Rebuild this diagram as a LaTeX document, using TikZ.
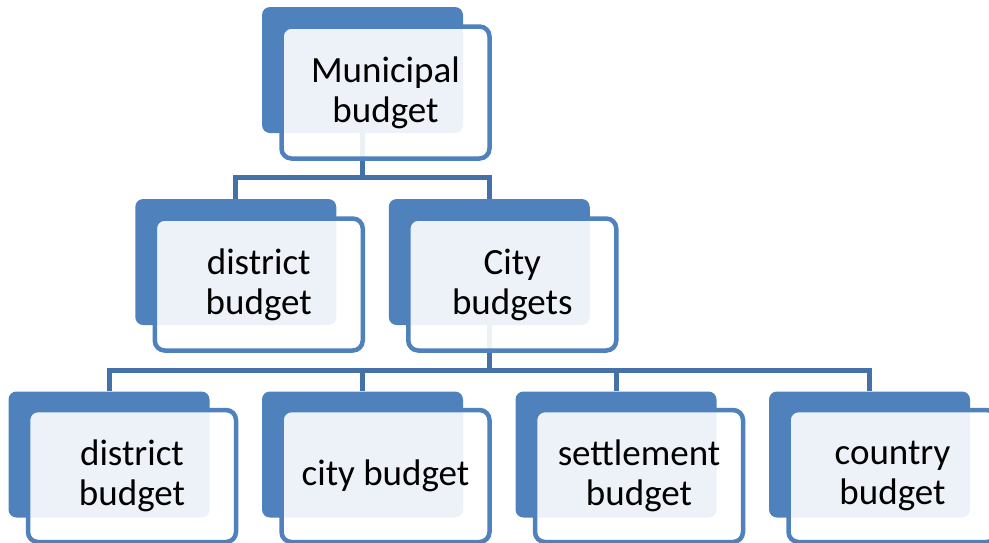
\documentclass[tikz,border=0pt]{standalone}
\usepackage{fontspec}
\setmainfont{Carlito}
\pgfdeclarelayer{bg}
\pgfsetlayers{bg,main}
\definecolor{accent}{RGB}{79,129,189}
\definecolor{linkc}{RGB}{68,114,168}
\tikzset{
  backbox/.style={fill=accent, draw=none, rounded corners=8pt, minimum width=201pt, minimum height=126pt, inner sep=0pt},
  frontbox/.style={fill=white, fill opacity=0.9, text opacity=1, draw=accent, line width=4.5pt, rounded corners=10pt, minimum width=208pt, minimum height=132pt, inner sep=0pt, align=center, font=\fontsize{37}{40}\selectfont},
  link/.style={draw=linkc, line width=5pt}
}
\begin{document}
\begin{tikzpicture}[x=1pt,y=-1pt]
\useasboundingbox (0,0) rectangle (989,542);
% back boxes
\node[backbox] (b1) at (362.5,70) {};
\node[backbox] (b2) at (235.75,262) {};
\node[backbox] (b3) at (489.25,262) {};
\node[backbox] (b4) at (109,454.5) {};
\node[backbox] (b5) at (362.5,454.5) {};
\node[backbox] (b6) at (616,454.5) {};
\node[backbox] (b7) at (869.5,454.5) {};
% connectors
\coordinate (m1) at (362.5,177);
\coordinate (m2) at (489.25,370);
\begin{pgfonlayer}{bg}
\draw[link] (b1.south) -- (m1) -| (b2.north);
\draw[link] (m1) -| (b3.north);
\draw[link] (b3.south) -- (m2) -| (b4.north);
\draw[link] (m2) -| (b5.north);
\draw[link] (m2) -| (b6.north);
\draw[link] (m2) -| (b7.north);
\end{pgfonlayer}
% front boxes
\node[frontbox] (f1) at (385.5,92.5) {Municipal\\budget};
\node[frontbox] (f2) at (258.75,284.5) {district\\budget};
\node[frontbox] (f3) at (512.25,284.5) {City\\budgets};
\node[frontbox] (f4) at (132,476) {district\\budget};
\node[frontbox] (f5) at (385.5,476) {city budget};
\node[frontbox] (f6) at (639,476) {settlement\\budget};
\node[frontbox] (f7) at (892.5,476) {country\\budget};
\end{tikzpicture}
\end{document}
